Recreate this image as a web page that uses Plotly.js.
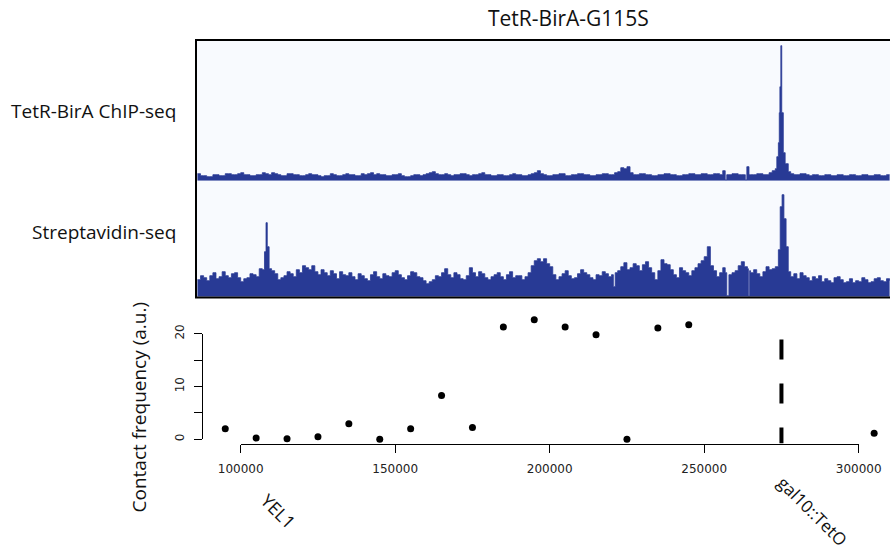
<!DOCTYPE html>
<html><head><meta charset="utf-8">
<script src="https://cdn.plot.ly/plotly-3.0.1.min.js"></script>
<style>html,body{margin:0;padding:0;background:#fff}#chart{width:890px;height:554px}</style>
</head><body><div id="chart"></div>
<script>
// ---- data ----
const chipPosKb = [86,87,88,89,90,91,92,93,94,95,96,97,98,99,100,101,102,103,104,105,106,107,108,109,110,111,112,113,114,115,116,117,118,119,120,121,122,123,124,125,126,127,128,129,130,131,132,133,134,135,136,137,138,139,140,141,142,143,144,145,146,147,148,149,150,151,152,153,154,155,156,157,158,159,160,161,162,163,164,165,166,167,168,169,170,171,172,173,174,175,176,177,178,179,180,181,182,183,184,185,186,187,188,189,190,191,192,193,194,195,196,197,198,199,200,201,202,203,204,205,206,207,208,209,210,211,212,213,214,215,216,217,218,219,220,221,222,223,224,225,226,227,228,229,230,231,232,233,234,235,236,237,238,239,240,241,242,243,244,245,246,247,248,249,250,251,252,253,254,255,256,256.8,257.3,258,259,260,261,262,263,263.3,263.8,264.5,265,266,267,268,269,270,271,272,273,273.5,274,274.3,274.5,274.8,275.1,275.6,276.2,277.2,278,279,280,281,282,283,284,285,286,287,288,289,290,291,292,293,294,295,296,297,298,299,300,301,302,303,304,305,306,307,308,309,310];
const chipVal = [7,5,5,4,4,6,6,5,5,7, 7,6,6,7,8,6,6,5,5,6, 6,8,7,6,8,7,6,5,5,7, 7,6,6,5,5,6,7,6,6,5, 4,5,5,7,6,5,5,6,7,6, 6,5,5,7,6,7,8,6,7,6, 6,5,5,6,6,7,5,4,4,5, 6,6,5,6,7,8,9,7,6,6, 7,6,5,6,6,7,7,6,5,6, 6,7,8,6,6,5,5,6,6,5, 5,6,7,6,6,5,5,6,7,8, 10,7,6,5,5,6,6,7,7,5, 5,6,6,7,7,6,6,5,5,6, 6,7,7,6,6,8,9,13,12,14, 8,6,6,7,7,6,6,5,5,6, 6,7,7,6,6,5,5,6,6,7, 7,6,6,7,7,6,6,7,7,6, 10, 1,6, 6,7,7,6,6,6, 1,14,6, 6,6,7,7,6,6,8,10,12, 24,38,68,94,135,68,28,17,9, 7,6,6,7,7,6,5,6,6,5, 5,6,6,5,5,6,6,5,5,6, 6,5,5,6,6,5,5,6,6,5, 5,6,6];
const strepPosKb = [86,87,88,89,90,91,92,93,94,95,96,97,98,99,100,101,102,103,104,105,106,107,107.7,108.2,108.6,109.2,110,111,112,113,114,115,116,117,118,119,120,121,122,123,124,125,126,127,128,129,130,131,132,133,134,135,136,137,138,139,140,141,142,143,144,145,146,147,148,149,150,151,152,153,154,155,156,157,158,159,160,161,162,163,164,165,166,167,168,169,170,171,172,173,174,175,176,177,178,179,180,181,182,183,184,185,186,187,188,189,190,191,192,193,194,195,196,197,198,199,200,201,202,203,204,205,206,207,208,209,210,211,212,213,214,215,216,217,218,219,220,220.6,221.2,222,223,224,225,226,227,228,229,230,231,232,233,234,235,236,237,238,239,240,241,242,243,244,245,246,247,248,249,250,251,252,253,254,255,256,256.8,257.3,258,259,260,261,262,263,264,264.3,264.7,265,266,267,268,269,270,271,272,273,274,274.6,275.2,275.8,276.5,277.2,278,279,280,281,282,283,284,285,286,287,288,289,290,291,292,293,294,295,296,297,298,299,300,301,302,303,304,305,306,307,308,309,310];
const strepVal = [17,21,19,16,21,24,18,20,25,21,19,23,24,19,15,18,19,23,22,20,28,27, 45,74,50,28, 26,23,17,19,21,25,23,20,27,24, 31,29,27,31,25,22,27,24,21,26, 23,18,25,22,21,24,20,17,23,21, 18,16,22,25,20,18,23,21,20,24, 26,22,19,17,21,25,24,20,19,16, 13,15,17,21,20,24,28,22,19,24, 22,18,17,21,29,24,20,25,23,19, 17,20,22,24,20,17,22,25,19,21, 21,17,20,24,31,36,38,35,38,33, 30,22,17,20,23,26,21,18,19,23, 27,24,22,19,17,22,21,25,23,20, 22, 10,24, 26,30,34,27,29,33,31,26, 32,35,29,24,17,26,37,33,32,27, 22,19,29,26,24,21,26,29,33,36, 40,50,31,26,20,24,29, 24,1, 22,24,26,31,35,30,28, 1,26, 24,27,23,20,25,30,27,28,30,47, 90,102,78,50,25, 20,23,18,24,21,19,16,20,18,21, 15,18,16,14,19,20,17,14,15,18, 14,16,15,19,17,14,15,18,19,16, 15,18,16];
const contactPos = [95000,105000,115000,125000,135000,145000,155000,165000,175000,185000,195000,205000,215000,225000,235000,245000,305000];
const contactVal = [2.0,0.25,0.1,0.45,2.95,0.0,2.0,8.3,2.2,21.3,22.65,21.3,19.8,0.0,21.1,21.7,1.15];
const tetOPos = 275000;
const tetOLineY = [18.9, -0.75];
const xTickVals = [100000,150000,200000,250000,300000];
const xTickText = ['100000','150000','200000','250000','300000'];
const yTickVals = [0,5,10,15,20];
const yTickText = ['0','','10','','20'];
const titleText = 'TetR-BirA-G115S';
const trackLabels = ['TetR-BirA ChIP-seq','Streptavidin-seq'];
const yTitleText = 'Contact frequency (a.u.)';
const locusLabels = ['YEL1','gal10::TetO'];

// ---- layout helpers ----
const W = 890, H = 554;
const fx = p => p / W;
const fy = p => 1 - p / H;
const FILL = '#283a95';
const LBL = 'Open Sans, Noto Sans, sans-serif';
const TICKF = {family: 'DejaVu Sans, sans-serif', size: 12, color: '#222'};

const traces = [
  {x: chipPosKb, y: chipVal, xaxis: 'x', yaxis: 'y', type: 'scatter', mode: 'lines',
   fill: 'tozeroy', fillcolor: FILL, line: {color: FILL, width: 0.8, shape: 'hv'}, hoverinfo: 'skip'},
  {x: strepPosKb, y: strepVal, xaxis: 'x', yaxis: 'y2', type: 'scatter', mode: 'lines',
   fill: 'tozeroy', fillcolor: FILL, line: {color: FILL, width: 0.8, shape: 'hv'}, hoverinfo: 'skip'},
  {x: contactPos, y: contactVal, xaxis: 'x3', yaxis: 'y3', type: 'scatter', mode: 'markers',
   marker: {size: 7, color: '#000'}},
  {x: [tetOPos, tetOPos], y: tetOLineY, xaxis: 'x4', yaxis: 'y3', type: 'scatter', mode: 'lines',
   line: {color: '#000', width: 4, dash: '20px,24px'}},
  {x: [], y: [], xaxis: 'x3', yaxis: 'y5', type: 'scatter', mode: 'markers'}
];

const hidden = {visible: false, showgrid: false, zeroline: false, fixedrange: true};

const layout = {
  width: W, height: H,
  margin: {l: 0, r: 0, t: 0, b: 0, pad: 0},
  paper_bgcolor: '#fff', plot_bgcolor: 'rgba(0,0,0,0)',
  showlegend: false,
  xaxis: Object.assign({}, hidden, {domain: [fx(197), 1], range: [85.86, 310.13], anchor: 'y'}),
  yaxis: Object.assign({}, hidden, {domain: [fy(180.7), fy(41)], range: [0, 139.7], anchor: 'x'}),
  yaxis2: Object.assign({}, hidden, {domain: [fy(296.7), fy(183)], range: [0, 113.7], anchor: 'x'}),
  xaxis3: Object.assign({}, hidden, {domain: [fx(203.3), 1], range: [87896, 310129], anchor: 'y3'}),
  yaxis3: Object.assign({}, hidden, {domain: [fy(444), fy(315)], range: [-0.906, 23.56], anchor: 'x3'}),
  xaxis4: {domain: [fx(240.7), fx(858.7)], range: [100000, 300000], anchor: 'y3', side: 'bottom',
    showline: true, linecolor: '#000', linewidth: 1, ticks: 'outside', ticklen: 8, tickwidth: 1,
    tickcolor: '#000', tickvals: xTickVals, ticktext: xTickText, tickfont: TICKF,
    showgrid: false, zeroline: false, ticklabelstandoff: 6, fixedrange: true},
  yaxis5: {domain: [fy(439.3), fy(333.7)], range: [0, 20], anchor: 'x3', side: 'left',
    showline: true, linecolor: '#000', linewidth: 1, ticks: 'outside', ticklen: 8, tickwidth: 1,
    tickcolor: '#000', tickvals: yTickVals, ticktext: yTickText, tickangle: -90, tickfont: TICKF,
    showgrid: false, zeroline: false, ticklabelstandoff: 6, fixedrange: true},
  shapes: [
    {type: 'rect', xref: 'paper', yref: 'paper', x0: fx(197), x1: 1, y0: fy(297), y1: fy(40),
     fillcolor: '#f8fafe', line: {width: 0}, layer: 'below'},
    {type: 'rect', xref: 'paper', yref: 'paper', x0: fx(196), x1: 1.05, y0: fy(297.5), y1: fy(40),
     fillcolor: 'rgba(0,0,0,0)', line: {color: '#000', width: 2}, layer: 'above'}
  ],
  annotations: [
    {text: titleText, xref: 'paper', yref: 'paper', x: fx(568), y: fy(18), showarrow: false,
     xanchor: 'center', yanchor: 'middle', font: {family: LBL, size: 21, color: '#111'}},
    {text: trackLabels[0], xref: 'paper', yref: 'paper', x: fx(178), y: fy(110.7), showarrow: false,
     xanchor: 'right', yanchor: 'middle', font: {family: LBL, size: 19, color: '#111'}},
    {text: trackLabels[1], xref: 'paper', yref: 'paper', x: fx(178), y: fy(231.7), showarrow: false,
     xanchor: 'right', yanchor: 'middle', font: {family: LBL, size: 19, color: '#111'}},
    {text: yTitleText, xref: 'paper', yref: 'paper', x: fx(138), y: fy(407.5), showarrow: false,
     textangle: -90, xanchor: 'center', yanchor: 'middle', font: {family: LBL, size: 19, color: '#111'}},
    {text: locusLabels[0], xref: 'paper', yref: 'paper', x: fx(278.5), y: fy(510.5), showarrow: false,
     textangle: 45, xanchor: 'center', yanchor: 'middle', font: {family: LBL, size: 18, color: '#111'}},
    {text: locusLabels[1], xref: 'paper', yref: 'paper', x: fx(813), y: fy(511), showarrow: false,
     textangle: 45, xanchor: 'center', yanchor: 'middle', borderpad: 0, font: {family: LBL, size: 17, color: '#111'}}
  ]
};

Plotly.newPlot('chart', traces, layout, {staticPlot: true, displayModeBar: false});
</script>
</body></html>
